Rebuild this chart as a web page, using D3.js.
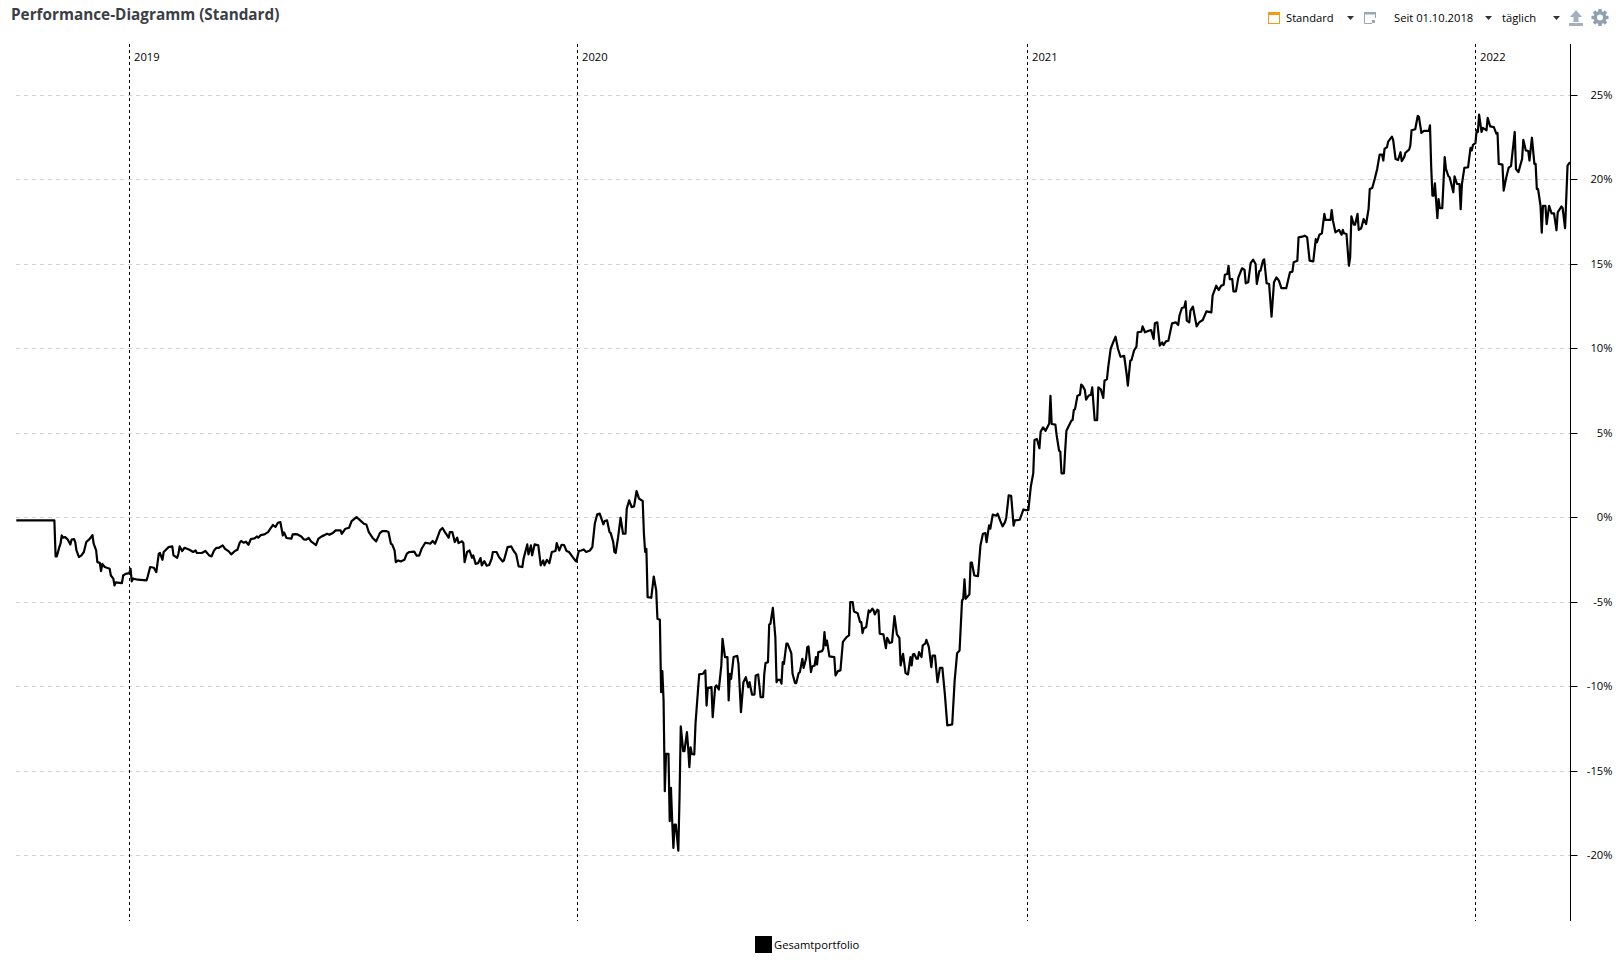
<!DOCTYPE html>
<html><head><meta charset="utf-8">
<style>
html,body{margin:0;padding:0;background:#fff;overflow:hidden}
text{font-family:"Open Sans","Noto Sans",sans-serif;font-size:11.2px;fill:#000}
</style>
<script src="https://cdn.jsdelivr.net/npm/d3@7/dist/d3.min.js"></script>
</head><body><svg id="c" width="1616" height="960"></svg>
<script>
const titleText = "Performance-Diagramm (Standard)";
const legendLabel = "Gesamtportfolio";
const startDate = new Date(2018, 9, 1);
const endDate = new Date(2022, 2, 19);
const yearTicks = [2019, 2020, 2021, 2022];
const percentTicks = [25, 20, 15, 10, 5, 0, -5, -10, -15, -20];
const toolbarLabels = ["Standard", "Seit 01.10.2018", "täglich"];

// days since startDate
const dayOffsets = [0,31,32,33,35,36,37,38,40,42,44,45,47,48,49,51,53,55,57,60,62,63,65,66,68,69,70,72,76,77,79,80,81,86,87,89,92,93,94,95,99,106,107,109,112,114,116,117,119,120,124,127,128,131,132,133,135,137,141,144,146,147,151,154,157,159,161,163,165,
168,170,173,175,178,180,182,183,185,187,189,191,194,196,197,199,202,205,207,209,211,213,215,216,217,218,220,224,225,227,229,232,234,236,238,240,244,246,249,251,253,255,258,260,264,265,268,271,273,275,277,280,283,285,287,290,293,296,298,301,303,305,306,308,309,311,313,316,318,320,
324,326,328,330,333,335,337,339,341,343,345,347,349,352,353,355,357,359,360,363,364,365,367,369,371,372,374,376,378,379,381,383,385,387,388,391,393,396,397,400,403,405,407,409,412,413,416,417,419,420,422,425,427,429,430,432,434,436,439,440,442,444,446,448,450,452,455,456,458,460,462,464,467,469,471,473,475,478,479,481,483,484,486,487,488,490,
492,494,496,497,499,501,503,505,507,510,511,512,513,514,517,519,521,522,524,525,526,527,528,529,531,532,533,534,535,536,537,539,540,541,543,544,546,547,548,549,550,552,553,555,556,559,561,562,563,566,567,569,570,572,574,575,577,579,580,581,582,584,587,588,590,592,594,596,597,599,601,602,604,606,608,609,610,612,613,614,616,618,619,620,622,623,624,625,627,628,631,632,634,635,637,638,640,641,643,644,645,647,648,650,651,652,653,656,657,658,659,660,662,666,667,669,671,673,676,678,679,681,682,685,687,688,689,690,692,694,695,697,698,699,701,702,703,706,708,709,710,711,713,715,717,719,720,722,724,726,728,729,730,731,733,734,735,737,738,740,741,743,745,746,748,750,752,754,756,758,762,764,766,768,770,771,772,773,776,777,778,780,783,785,787,789,790,792,793,795,798,799,801,803,805,806,808,810,812,813,817,
820,822,824,826,828,829,831,833,834,836,838,841,842,843,846,847,849,850,851,853,854,855,857,859,860,861,862,864,866,867,868,870,871,873,875,876,878,880,881,883,885,886,888,889,891,893,895,897,899,902,904,905,907,908,910,912,913,916,917,919,922,924,926,927,929,931,933,934,936,938,941,944,946,947,949,951,952,953,955,956,958,961,963,966,969,973,974,977,979,981,983,984,986,987,988,990,991,993,995,998,1000,1001,1003,1005,1007,1009,1010,1012,1013,1015,1016,1018,1020,1022,1024,1026,1028,1030,1032,1034,1037,1039,1040,1043,1044,1047,1049,1051,1053,1056,1058,1059,1061,1063,1065,1066,1070,1071,1072,1074,1077,1079,1080,1081,1083,1085,1086,1087,1089,1090,1092,1093,1095,1097,1099,1101,1102,1104,1106,1108,1110,1112,1113,1114,1116,1117,1120,1121,1123,1125,1127,
1128,1130,1131,1134,1135,1136,1139,1141,1142,1144,1146,1150,1151,1152,1153,1154,1155,1157,1158,1159,1161,1163,1164,1166,1167,1170,1171,1173,1175,1176,1177,1179,1182,1184,1185,1186,1188,1189,1190,1191,1193,1194,1197,1198,1200,1203,1205,1206,1207,1210,1211,1213,1215,1217,1220,1221,1223,1226,1227,1229,1231,1232,1234,1236,1237,1238,1239,1241,1242,1243,1245,1246,1248,1250,1252,1254,1255,1258,1259,1261,1263,1265];

// performance in percent
const performance = [-0.16,-0.16,-2.29,-2.29,-1.74,-1.54,-1.05,-1.18,-1.15,-1.30,-1.58,-1.30,-1.26,-1.44,-1.94,-2.33,-2.23,-2.03,-1.44,-1.24,-1.03,-1.54,-1.94,-2.63,-2.67,-3.16,-2.73,-2.92,-3.02,-3.42,-3.61,-4.01,-3.83,-3.87,-3.42,-3.32,-3.28,-3.02,-3.77,-3.61,-3.67,-3.71,-3.48,-2.92,-2.96,-3.22,-2.13,-2.09,-2.49,-2.03,-1.74,-1.70,-2.23,-2.37,-2.13,-1.70,-1.97,-1.78,-1.90,-2.03,-1.94,-2.09,-2.09,-1.97,-2.23,-2.29,-1.94,-1.78,-1.78,
-1.64,-1.84,-1.99,-2.17,-1.97,-1.90,-1.46,-1.38,-1.48,-1.42,-1.60,-1.26,-1.22,-1.11,-1.18,-1.03,-0.99,-0.85,-0.63,-0.43,-0.55,-0.30,-0.26,-0.65,-1.05,-0.87,-1.20,-1.24,-0.99,-0.97,-0.99,-1.11,-1.28,-1.30,-1.20,-1.40,-1.62,-1.24,-1.09,-1.03,-0.95,-1.01,-0.89,-0.75,-0.75,-0.95,-0.65,-0.59,-0.20,-0.08,0.04,-0.16,-0.36,-0.40,-0.85,-1.18,-1.40,-0.91,-0.79,-0.79,-0.85,-1.54,-1.58,-1.94,-2.63,-2.53,-2.59,-2.49,-2.13,-2.03,
-2.01,-2.25,-2.25,-1.84,-1.48,-1.50,-1.54,-1.38,-1.54,-1.15,-0.75,-0.61,-0.85,-1.18,-0.85,-0.85,-1.44,-1.18,-1.50,-1.40,-1.50,-2.63,-2.03,-1.94,-2.37,-2.23,-2.73,-2.69,-2.39,-2.82,-2.57,-2.84,-2.80,-2.43,-2.03,-2.03,-2.33,-2.59,-2.53,-1.74,-1.70,-1.97,-2.17,-2.88,-2.92,-2.43,-1.58,-2.17,-1.64,-2.23,-1.58,-1.64,-2.82,-2.53,-2.82,-2.49,-2.69,-2.03,-1.97,-1.50,-1.94,-1.60,-1.62,-1.97,-2.03,-2.23,-2.53,-2.59,-1.97,-1.94,-1.88,-2.03,-1.94,-1.74,-0.36,0.20,0.24,-0.39,-0.20,-0.16,-0.85,-0.91,-1.44,-2.03,-2.09,-1.15,
0,-0.95,-0.95,0.53,1.03,0.63,0.67,1.58,1.13,0.99,-0.95,-2.03,-1.84,-4.70,-4.74,-3.48,-4.30,-5.98,-6.04,-10.33,-9.08,-10.82,-16.19,-13.98,-13.98,-17.97,-15.99,-17.93,-19.55,-18.17,-18.17,-19.71,-16.55,-12.36,-13.82,-13.82,-12.70,-13.59,-14.77,-13.59,-13.98,-14.02,-12.20,-10.23,-9.28,-9.24,-9.04,-11.12,-10.07,-10.03,-11.81,-10.03,-9.93,-10.17,-8.76,-7.17,-8.25,-8.25,-10.82,-9.24,-9.54,-8.25,-8.18,-8.65,-11.51,-9.74,-9.44,-10.03,-9.74,-10.47,-10.47,-9.34,-9.28,-10.62,-10.62,-9.24,-8.61,-8.55,-6.32,-6.28,-5.33,-7.07,-9.74,-9.60,-9.60,-9.83,-8.55,-8.65,-7.46,-7.46,-8.02,-9.24,-9.79,-9.79,-9.20,-9.14,-8.35,-8.89,-8.35,-7.66,-7.62,-9.14,-8.81,-8.75,-8.25,-8.69,-7.96,-7.90,-7.76,-6.77,-7.56,-7.27,-8.21,-8.25,-9.34,-9.08,-9.04,-7.35,-7.07,-6.97,-5.00,-5.00,-5.55,-5.65,-6.18,-6.18,-6.83,-6.54,-6.48,-5.49,-5.59,-5.39,-5.49,-5.73,-5.45,-5.49,-6.87,-6.91,-7.72,-7.11,-7.23,-7.42,-7.37,-5.83,-6.91,-7.11,-8.75,-8.06,-9.20,-9.28,-8.25,-8.75,-8.10,-8.06,-8.35,-8.35,-7.96,-8.25,-7.56,-7.46,-7.23,-7.66,-8.85,-8.16,-8.16,-9.74,-8.89,-8.89,-10.43,-12.30,-12.24,-9.64,-8.02,-7.86,-4.90,-4.80,-3.65,-4.80,-4.54,-2.65,-2.65,-3.42,-3.46,-1.64,-0.95,-0.91,-1.44,-0.45,-0.65,0.18,0.12,0.24,-0.16,-0.51,-0.26,0,1.32,1.30,-0.47,-0.16,-0.12,
0.49,0.45,0.45,1.84,2.63,4.60,4.66,4.11,5.09,5.35,5.15,5.58,7.22,5.55,5.51,4.90,3.97,3.91,2.63,2.63,4.01,5.15,5.45,5.74,5.78,6.37,6.43,7.22,7.28,7.88,7.82,7.56,6.99,7.22,7.28,7.72,5.78,5.78,7.72,7.60,7.09,8.11,8.21,8.90,9.99,10.38,10.72,9.99,9.53,9.59,8.51,7.82,9.30,9.34,9.89,10.13,10.98,11.01,11.33,10.98,11.07,11.11,10.58,11.51,11.57,10.19,10.38,10.22,10.44,10.48,11.51,11.57,11.41,11.96,12.42,12.46,12.81,11.67,11.57,12.26,12.50,11.33,11.57,11.71,12.22,12.16,13.15,13.74,13.48,13.74,13.78,14.39,14.43,14.92,14.13,14.13,13.40,13.40,14.23,14.77,14.67,13.88,13.94,15.08,15.28,15.02,13.84,14.59,14.63,15.22,15.30,13.88,13.84,11.90,13.94,14.23,14.04,13.60,13.60,13.60,14.53,14.57,15.12,15.22,16.60,16.64,16.70,16.60,15.22,15.18,16.50,16.31,16.76,16.84,17.99,17.63,17.63,18.22,17.59,16.90,17.04,16.76,17.04,16.84,16.80,14.92,15.42,17.85,17.35,17.35,17.99,17.04,17.14,17.69,17.39,18.28,19.47,19.53,20.06,20.65,21.50,21.50,21.15,21.84,21.94,22.27,22.57,22.37,21.24,21.18,21.64,
21.11,21.35,21.61,21.79,22.04,22.94,23.00,23.79,23.73,22.78,22.90,22.90,23.23,20.75,19.07,19.07,19.80,17.74,18.87,18.33,18.33,21.35,20.65,20.22,20.16,19.27,20.22,19.76,19.76,18.27,19.76,20.71,20.75,21.90,21.75,22.08,22.18,22.94,22.84,23.87,22.84,23.08,22.94,23.67,23.17,23.13,22.74,22.78,20.95,20.91,19.37,20.12,20.71,20.83,22.84,20.65,20.46,21.25,22.38,21.75,21.71,21.15,22.50,20.95,20.95,19.46,19.46,18.47,16.88,18.47,18.47,17.38,18.47,18.02,18.02,17.02,18.08,18.43,18.33,17.14,20.85,21.05];

const svg = d3.select("#c");
const x = d3.scaleTime().domain([startDate, endDate]).range([16.3, 1570]);
const y = d3.scaleLinear().domain([25, -20]).range([95.5, 855.5]);
const yRows = d3.scaleLinear().domain([25, -20]).rangeRound([95, 855]);
const top_ = 44, bottom = 921, right = 1570;

// horizontal grid
svg.append("g").selectAll("line").data(percentTicks).join("line")
  .attr("x1", 16).attr("x2", right)
  .attr("y1", d => yRows(d) + 0.5).attr("y2", d => yRows(d) + 0.5)
  .attr("stroke", "#d2d2d2").attr("stroke-dasharray", "4,4");

// year lines
const yg = svg.append("g").selectAll("g").data(yearTicks).join("g")
  .attr("transform", d => `translate(${Math.floor(x(new Date(d, 0, 1))) + 0.5},0)`);
yg.append("line").attr("y1", top_).attr("y2", bottom)
  .attr("stroke", "#000").attr("stroke-dasharray", "3,3");
yg.append("text").attr("x", 4.5).attr("y", 61).text(d => d);

// series
const points = dayOffsets.map((d, i) => [d3.timeDay.offset(startDate, d), performance[i]]);
svg.append("path").datum(points)
  .attr("fill", "none").attr("stroke", "#000").attr("stroke-width", 2.2).attr("stroke-linejoin", "round")
  .attr("d", d3.line().x(d => x(d[0])).y(d => y(d[1])));

// right axis
const axis = d3.axisRight(yRows).tickValues(percentTicks).tickSize(7).tickPadding(0).tickFormat(d => d + "%");
const ag = svg.append("g").attr("transform", `translate(${right + 0.5},0)`).call(axis);
ag.select(".domain").remove();
ag.selectAll(".tick line").attr("stroke", "#000");
ag.selectAll(".tick text").attr("x", 42).attr("text-anchor", "end").attr("fill", "#000")
  .style("font-family", '"Open Sans","Noto Sans",sans-serif').style("font-size", "11.2px");
ag.append("line").attr("y1", top_).attr("y2", bottom).attr("stroke", "#000");

// title
svg.append("text").attr("x", 11).attr("y", 20).text(titleText)
  .style("font-size", "15.3px").style("font-weight", 700).style("fill", "#3b3f45");

// legend
svg.append("rect").attr("x", 755).attr("y", 936).attr("width", 17).attr("height", 17).attr("fill", "#000");
svg.append("text").attr("x", 774).attr("y", 949).text(legendLabel);

// toolbar
const tb = svg.append("g");
tb.append("rect").attr("x", 1268.5).attr("y", 12.5).attr("width", 11).attr("height", 11).attr("fill", "none").attr("stroke", "#f39c12");
tb.append("rect").attr("x", 1268).attr("y", 12).attr("width", 12).attr("height", 3).attr("fill", "#f39c12");
tb.append("text").attr("x", 1286).attr("y", 22).text(toolbarLabels[0]);
tb.append("text").attr("x", 1394).attr("y", 22).text(toolbarLabels[1]);
tb.append("text").attr("x", 1502).attr("y", 22).text(toolbarLabels[2]);
tb.selectAll("path.caret").data([1347, 1485, 1553]).join("path").attr("class", "caret")
  .attr("d", d => `M${d},16L${d + 7},16L${d + 3.5},20Z`).attr("fill", "#333");
tb.append("path").attr("d", "M1364.5,12.5H1375.5V18M1364.5,12.5V23.5H1372").attr("fill", "none").attr("stroke", "#9aa7b4");
tb.append("rect").attr("x", 1364).attr("y", 12).attr("width", 12).attr("height", 2.5).attr("fill", "#9aa7b4");
tb.append("rect").attr("x", 1372).attr("y", 20).attr("width", 3).attr("height", 3).attr("fill", "#9aa7b4");
tb.append("path").attr("d", "M1576,10L1582,17H1578.5V22H1573.5V17H1570ZM1569,23H1583V26H1569Z").attr("fill", "#a3b1bd");
const gear = d3.arc().innerRadius(3).outerRadius(6.5).startAngle(0).endAngle(2 * Math.PI);
tb.append("path").attr("d", gear()).attr("transform", "translate(1600,17.5)").attr("fill", "#8fa0b0");
tb.selectAll("rect.tooth").data(d3.range(0, 360, 45)).join("rect").attr("class", "tooth")
  .attr("x", -1.7).attr("y", -8.5).attr("width", 3.4).attr("height", 3.5).attr("fill", "#8fa0b0")
  .attr("transform", d => `translate(1600,17.5) rotate(${d})`);
</script></body></html>
